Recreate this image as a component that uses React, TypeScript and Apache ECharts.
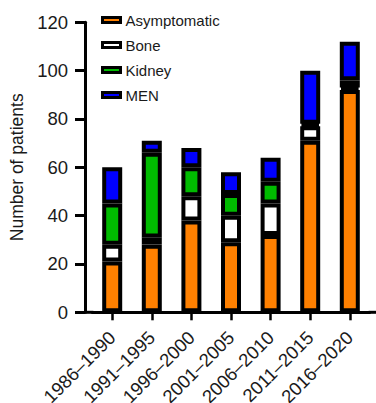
import React, { useEffect, useRef } from "react";
import * as echarts from "echarts";

const categories = ["1986–1990", "1991–1995", "1996–2000", "2001–2005", "2006–2010", "2011–2015", "2016–2020"];
const asymptomatic = [21, 28, 38, 29, 32, 71, 92];
const bone = [7, 3, 10, 11, 13, 6, 1];
const kidney = [17, 35, 12, 9, 9, 1, 3];
const men = [15, 5, 8, 9, 10, 22, 16];
const yTicks = { min: 0, max: 120, interval: 20 };

const seriesDefs = [
  { name: "Asymptomatic", data: asymptomatic, color: "#ff8000" },
  { name: "Bone", data: bone, color: "#ffffff" },
  { name: "Kidney", data: kidney, color: "#00bb00" },
  { name: "MEN", data: men, color: "#0000ff" },
];

const FONT = "Liberation Sans, Arial, Helvetica, sans-serif";

export default function App() {
  const ref = useRef<HTMLDivElement>(null);
  useEffect(() => {
    if (!ref.current) return;
    const chart = echarts.init(ref.current, undefined, { renderer: "svg" });
    const gridLeft = 92.4;
    const gridRight = 6.4;
    const gridTop = 22.3;
    const gridBottom = 90.7;
    const axisY = 403 - gridBottom;
    chart.setOption({
      animation: false,
      backgroundColor: "#ffffff",
      grid: {
        left: gridLeft,
        right: gridRight,
        top: gridTop,
        bottom: gridBottom,
        containLabel: false,
        outerBoundsMode: "none",
      },
      legend: {
        orient: "vertical",
        left: 101,
        top: 12,
        padding: 0,
        itemWidth: 18,
        itemHeight: 5,
        itemGap: 9,
        icon: "rect",
        selectedMode: false,
        itemStyle: { borderColor: "#000", borderWidth: 3 },
        textStyle: { fontFamily: FONT, fontSize: 15, color: "#1a1a1a", lineHeight: 16 },
        data: seriesDefs.map((s) => s.name),
      },
      xAxis: {
        type: "category",
        data: categories,
        axisLine: { show: true, lineStyle: { color: "#000", width: 3 } },
        axisTick: { show: true, alignWithLabel: true, length: 8, lineStyle: { color: "#000", width: 2.5 } },
        axisLabel: {
          rotate: 45,
          margin: 22,
          interval: 0,
          fontFamily: FONT,
          fontSize: 18.5,
          color: "#1a1a1a",
        },
      },
      yAxis: {
        type: "value",
        min: yTicks.min,
        max: yTicks.max,
        interval: yTicks.interval,
        offset: gridLeft - 85,
        name: "Number of patients",
        nameLocation: "middle",
        nameRotate: 90,
        nameGap: 54,
        nameTextStyle: { fontFamily: FONT, fontSize: 17.5, color: "#1a1a1a" },
        splitLine: { show: false },
        axisLine: { show: true, lineStyle: { color: "#000", width: 3 } },
        axisTick: { show: true, length: 10, lineStyle: { color: "#000", width: 3 } },
        axisLabel: { margin: 17, fontFamily: FONT, fontSize: 18.5, color: "#1a1a1a" },
      },
      graphic: [
        {
          type: "line",
          shape: { x1: 84, y1: axisY, x2: gridLeft + 1, y2: axisY },
          style: { stroke: "#000", lineWidth: 3 },
          silent: true,
        },
        {
          type: "line",
          shape: { x1: 376 - gridRight - 1, y1: axisY, x2: 376, y2: axisY },
          style: { stroke: "#000", lineWidth: 3 },
          silent: true,
        },
      ],
      series: seriesDefs.map((s) => ({
        name: s.name,
        type: "bar",
        stack: "total",
        data: s.data,
        barWidth: 20,
        itemStyle: { color: s.color, borderColor: "#000", borderWidth: 4 },
      })),
    });
    return () => chart.dispose();
  }, []);
  return <div ref={ref} style={{ width: 376, height: 403, position: "absolute", left: 0, top: 0 }} />;
}
